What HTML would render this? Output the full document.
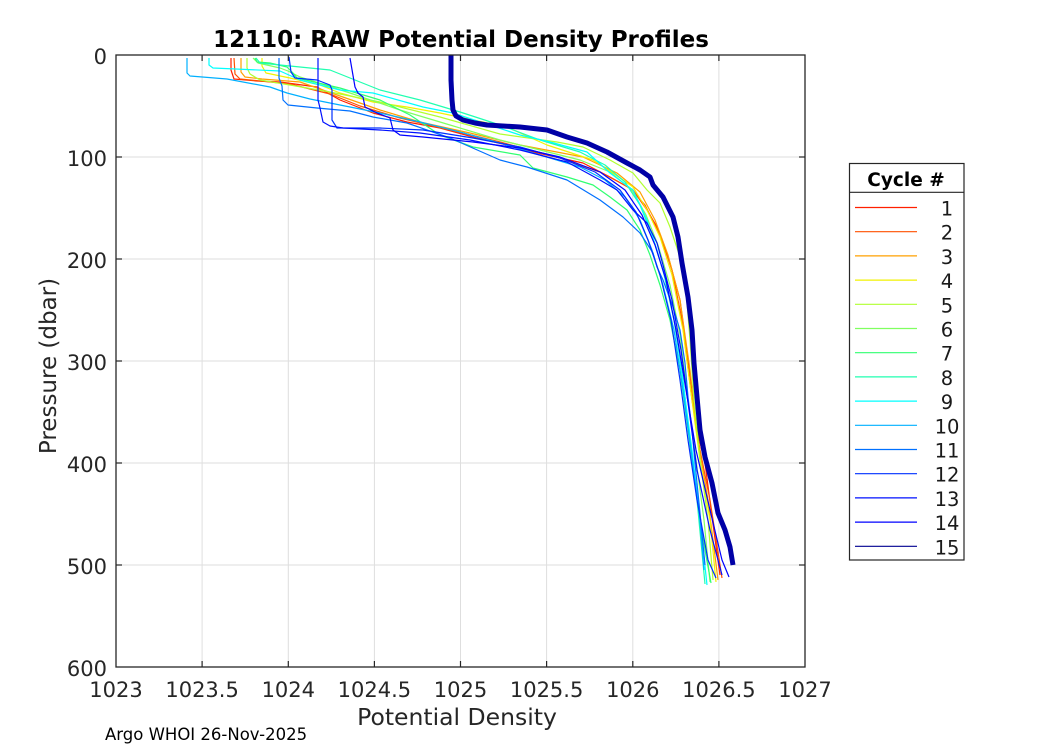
<!DOCTYPE html>
<html>
<head>
<meta charset="utf-8">
<style>
html,body{margin:0;padding:0;background:#fff;}
svg{display:block;}
text{font-family:"DejaVu Sans","Liberation Sans",sans-serif;}
</style>
</head>
<body>
<svg width="1050" height="750" viewBox="0 0 1050 750" xmlns="http://www.w3.org/2000/svg">
<rect x="0" y="0" width="1050" height="750" fill="#fff"/>
<!-- plot background -->
<rect x="116" y="55" width="689" height="612" fill="#fff"/>
<!-- grid -->
<g stroke="#dedede" stroke-width="1">
<line x1="202.1" y1="55" x2="202.1" y2="667"/>
<line x1="288.3" y1="55" x2="288.3" y2="667"/>
<line x1="374.4" y1="55" x2="374.4" y2="667"/>
<line x1="460.5" y1="55" x2="460.5" y2="667"/>
<line x1="546.6" y1="55" x2="546.6" y2="667"/>
<line x1="632.8" y1="55" x2="632.8" y2="667"/>
<line x1="718.9" y1="55" x2="718.9" y2="667"/>
<line x1="116" y1="157" x2="805" y2="157"/>
<line x1="116" y1="259" x2="805" y2="259"/>
<line x1="116" y1="361" x2="805" y2="361"/>
<line x1="116" y1="463" x2="805" y2="463"/>
<line x1="116" y1="565" x2="805" y2="565"/>
</g>
<!-- thin profiles -->
<g fill="none" stroke-width="1.2" stroke-linejoin="round">
<polyline stroke="#ff2000" points="231,58 231,70 234,79 257,81 280,82 317,87 340,100 373,113 407,122 440,128 473,137 507,145 533,152 583,163 610,177 633,190 647,210 657,227 663,243 670,263 680,300 688,360 697,430 705,463 712,517 720,575"/>
<polyline stroke="#ff5000" points="234,58 235,74 240,79 290,84 330,94 360,106 400,118 450,130 500,142 560,158 600,172 630,188 645,205 660,235 672,270 682,320 692,400 700,450 710,500 722,578"/>
<polyline stroke="#ffa000" points="241,58 241,72 245,77 262,79 300,82 340,96 380,110 420,122 470,133 520,145 583,157 617,173 640,192 655,220 668,255 680,300 690,370 698,440 708,500 718,580"/>
<polyline stroke="#f2f200" points="262,58 262,66 266,73 290,78 320,85 340,93 373,102 407,107 440,113 473,120 507,127 547,145 593,160 613,173 633,187 647,210 660,237 672,275 683,330 692,400 700,460 710,520 716,582"/>
<polyline stroke="#b0ff30" points="247,58 247,68 250,74 260,80 290,85 330,92 380,102 440,117 500,134 557,142 583,147 610,160 633,173 647,190 660,203 670,227 680,257 686,290 690,340 694,400 700,460 708,520 713,580"/>
<polyline stroke="#80ff60" points="253,58 258,63 280,68 288,71 300,77 350,93 400,110 450,125 500,140 540,150 580,160 610,172 632,190 646,215 658,245 670,285 680,335 688,400 696,460 704,520 710,582"/>
<polyline stroke="#30ff70" points="255,58 257,62 270,63 287,67 293,73 297,78 340,88 380,100 410,115 440,135 473,147 520,155 533,168 567,177 593,185 610,197 627,210 640,230 650,255 660,285 670,320 680,370 688,430 696,490 705,550 711,583"/>
<polyline stroke="#20ffb0" points="256,58 260,63 300,67 330,70 350,78 380,90 420,100 460,112 500,125 540,140 580,152 605,165 625,182 640,205 652,235 663,270 674,320 683,380 690,440 697,500 705,584"/>
<polyline stroke="#00ffff" points="209,58 209,65 213,68 280,71 300,80 340,90 373,93 423,107 453,113 520,135 550,142 587,152 610,173 633,190 647,220 657,250 667,285 676,330 684,390 692,450 700,520 707,585"/>
<polyline stroke="#00b0ff" points="187,58 187,73 190,76 227,79 270,87 287,93 310,99 340,105 380,113 420,122 460,132 500,143 540,155 580,167 605,180 625,197 640,220 652,250 663,285 674,330 683,390 691,450 699,510 704,570"/>
<polyline stroke="#0070ff" points="279,58 279,78 282,86 283,100 288,105 317,108 350,111 373,117 407,123 450,138 500,160 527,167 567,180 600,200 623,217 640,233 653,253 657,267 663,280 673,307 680,330 685,363 688,397 692,430 695,463 700,513 705,565"/>
<polyline stroke="#0030ff" points="289,57 291,72 295,78 317,80 330,85 332,90 332,120 337,128 350,128 380,128 423,130 473,138 520,147 560,158 595,172 620,190 636,212 648,240 660,275 671,320 680,380 688,440 697,500 708,560 716,578"/>
<polyline stroke="#0010ff" points="318,58 318,100 320,108 323,122 330,126 343,128 380,130 420,133 470,140 520,150 567,162 600,180 617,190 633,210 647,223 657,243 663,265 672,300 681,350 689,410 697,470 710,530 722,575"/>
<polyline stroke="#0000ff" points="350,58 355,87 358,93 363,97 365,107 377,113 390,118 393,130 400,135 423,137 473,142 520,148 560,157 600,172 625,190 642,215 655,245 666,280 676,330 686,390 696,450 710,510 722,560 729,577"/>
</g>
<!-- thick profile 15 -->
<polyline fill="none" stroke="#0000a6" stroke-width="5" stroke-linejoin="round" points="451,55 451,80 452,100 453,110 456,116 463,120 475,123 487,125 520,127 547,130 567,137 587,143 607,152 627,163 640,170 650,177 653,185 663,197 668,207 673,217 678,237 682,263 688,297 692,330 694,363 697,397 700,430 705,457 712,483 718,513 725,530 730,547 733,565"/>
<!-- axes box -->
<rect x="116" y="55" width="689" height="612" fill="none" stroke="#262626" stroke-width="1.3"/>
<!-- ticks -->
<g stroke="#262626" stroke-width="1.2">
<line x1="202.1" y1="667" x2="202.1" y2="661"/><line x1="202.1" y1="55" x2="202.1" y2="61"/>
<line x1="288.3" y1="667" x2="288.3" y2="661"/><line x1="288.3" y1="55" x2="288.3" y2="61"/>
<line x1="374.4" y1="667" x2="374.4" y2="661"/><line x1="374.4" y1="55" x2="374.4" y2="61"/>
<line x1="460.5" y1="667" x2="460.5" y2="661"/><line x1="460.5" y1="55" x2="460.5" y2="61"/>
<line x1="546.6" y1="667" x2="546.6" y2="661"/><line x1="546.6" y1="55" x2="546.6" y2="61"/>
<line x1="632.8" y1="667" x2="632.8" y2="661"/><line x1="632.8" y1="55" x2="632.8" y2="61"/>
<line x1="718.9" y1="667" x2="718.9" y2="661"/><line x1="718.9" y1="55" x2="718.9" y2="61"/>
<line x1="116" y1="157" x2="122" y2="157"/><line x1="805" y1="157" x2="799" y2="157"/>
<line x1="116" y1="259" x2="122" y2="259"/><line x1="805" y1="259" x2="799" y2="259"/>
<line x1="116" y1="361" x2="122" y2="361"/><line x1="805" y1="361" x2="799" y2="361"/>
<line x1="116" y1="463" x2="122" y2="463"/><line x1="805" y1="463" x2="799" y2="463"/>
<line x1="116" y1="565" x2="122" y2="565"/><line x1="805" y1="565" x2="799" y2="565"/>
</g>
<!-- x tick labels -->
<g font-size="21" fill="#262626" text-anchor="middle">
<text x="116" y="697">1023</text>
<text x="202.1" y="697">1023.5</text>
<text x="288.3" y="697">1024</text>
<text x="374.4" y="697">1024.5</text>
<text x="460.5" y="697">1025</text>
<text x="546.6" y="697">1025.5</text>
<text x="632.8" y="697">1026</text>
<text x="718.9" y="697">1026.5</text>
<text x="805" y="697">1027</text>
</g>
<!-- y tick labels -->
<g font-size="21" fill="#262626" text-anchor="end">
<text x="107" y="64">0</text>
<text x="107" y="166">100</text>
<text x="107" y="268">200</text>
<text x="107" y="370">300</text>
<text x="107" y="472">400</text>
<text x="107" y="574">500</text>
<text x="107" y="676">600</text>
</g>
<!-- labels -->
<text x="457" y="725" font-size="23.5" fill="#262626" text-anchor="middle">Potential Density</text>
<text transform="translate(56,366) rotate(-90)" font-size="23" fill="#262626" text-anchor="middle">Pressure (dbar)</text>
<text x="461" y="47" font-size="23" font-weight="bold" fill="#000" text-anchor="middle">12110: RAW Potential Density Profiles</text>
<text x="105" y="740" font-size="16.5" fill="#000">Argo WHOI 26-Nov-2025</text>
<!-- legend -->
<rect x="849.5" y="163.5" width="114.5" height="396.5" fill="#fff" stroke="#262626" stroke-width="1.2"/>
<line x1="849.5" y1="192.3" x2="964" y2="192.3" stroke="#262626" stroke-width="1.2"/>
<text x="906" y="186" font-size="18.5" font-weight="bold" fill="#000" text-anchor="middle">Cycle #</text>
<g stroke-width="1.2">
<line x1="855" y1="207.5" x2="917" y2="207.5" stroke="#ff2000"/>
<line x1="855" y1="231.7" x2="917" y2="231.7" stroke="#ff5000"/>
<line x1="855" y1="255.9" x2="917" y2="255.9" stroke="#ffa000"/>
<line x1="855" y1="280.1" x2="917" y2="280.1" stroke="#f2f200"/>
<line x1="855" y1="304.3" x2="917" y2="304.3" stroke="#b0ff30"/>
<line x1="855" y1="328.5" x2="917" y2="328.5" stroke="#80ff60"/>
<line x1="855" y1="352.7" x2="917" y2="352.7" stroke="#30ff70"/>
<line x1="855" y1="376.9" x2="917" y2="376.9" stroke="#20ffb0"/>
<line x1="855" y1="401.1" x2="917" y2="401.1" stroke="#00ffff"/>
<line x1="855" y1="425.3" x2="917" y2="425.3" stroke="#00b0ff"/>
<line x1="855" y1="449.5" x2="917" y2="449.5" stroke="#0070ff"/>
<line x1="855" y1="473.7" x2="917" y2="473.7" stroke="#0030ff"/>
<line x1="855" y1="497.9" x2="917" y2="497.9" stroke="#0010ff"/>
<line x1="855" y1="522.1" x2="917" y2="522.1" stroke="#0000ff"/>
<line x1="855" y1="546.3" x2="917" y2="546.3" stroke="#000090"/>
</g>
<g font-size="19.5" fill="#1a1a1a" text-anchor="middle">
<text x="947" y="215.5">1</text>
<text x="947" y="239.7">2</text>
<text x="947" y="263.9">3</text>
<text x="947" y="288.1">4</text>
<text x="947" y="312.3">5</text>
<text x="947" y="336.5">6</text>
<text x="947" y="360.7">7</text>
<text x="947" y="384.9">8</text>
<text x="947" y="409.1">9</text>
<text x="947" y="433.3">10</text>
<text x="947" y="457.5">11</text>
<text x="947" y="481.7">12</text>
<text x="947" y="505.9">13</text>
<text x="947" y="530.1">14</text>
<text x="947" y="554.3">15</text>
</g>
</svg>
</body>
</html>
